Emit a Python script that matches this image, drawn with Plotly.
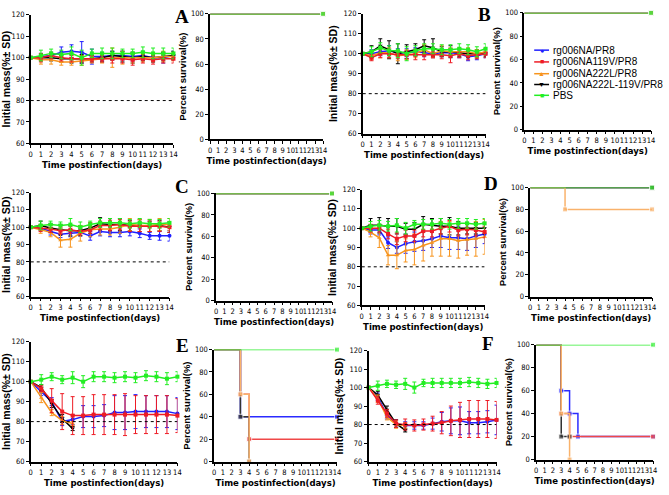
import plotly.graph_objects as go

W, H = 669, 495
days = list(range(15))

series_names = ["rg006NA/PR8", "rg006NA119V/PR8", "rg006NA222L/PR8", "rg006NA222L-119V/PR8", "PBS"]
colors = ["#1f1fff", "#ee1c25", "#f7941d", "#000000", "#22ee22"]
surv_colors = ["#2b2bff", "#f04848", "#f9b26b", "#333333", "#33ee33"]
symbols = ["circle", "square", "triangle-up", "triangle-down", "square"]

# ---- body mass (%), order: blue, red, orange, black, green ----
A_blue = [100, 100.5, 101, 102.5, 103, 102.5, 100.5, 100.5, 101, 101, 100.5, 101, 100, 100, 101]
A_red = [100, 100, 101, 100, 99.5, 99.5, 99.5, 99.5, 99.5, 99.5, 99, 99.5, 99, 99.5, 99.5]
A_orange = [100, 99, 99, 98, 98, 98.5, 99, 99.5, 100, 100, 100, 100, 100, 100.5, 100.5]
A_black = [100, 100, 100, 99.5, 99.5, 99.5, 99.5, 100, 101, 100.5, 100, 100.5, 100, 100.5, 101]
A_green = [100, 101, 102, 101.5, 102, 100, 102, 102, 102, 102, 102, 102.5, 102, 102, 102]
A_blue_sd = [0, 1.5, 1.5, 2.5, 3, 5, 3.5, 2, 2, 2, 2, 2, 2, 2.5, 2]
A_red_sd = [0, 2, 1.5, 1.5, 1.5, 1.5, 1.5, 1.5, 2, 2, 2.5, 2, 2, 2, 2]
A_orange_sd = [0, 2, 2, 1.5, 1.5, 2, 1.5, 2, 4.5, 3, 2.5, 2, 2, 2.5, 2]
A_black_sd = [0, 1.5, 1.5, 1.5, 2, 2, 1.5, 2, 2, 2.5, 2.5, 2, 2, 2, 2]
A_green_sd = [0, 2.5, 2, 2, 3, 3.5, 2, 2.5, 2.5, 2, 2, 2.5, 2.5, 2.5, 2.5]

B_blue = [100, 100, 101, 101.5, 100.5, 100.5, 101, 100.5, 100, 100.5, 100.5, 100, 98.5, 99, 100]
B_red = [100, 98, 100, 100, 99.5, 99.5, 99.5, 99.5, 99.5, 99.5, 99, 100, 99, 99.5, 100]
B_orange = [100, 99, 100.5, 100.5, 99, 99.5, 100, 102, 100, 101.5, 101, 101, 101, 100, 101]
B_black = [100, 101, 104, 102, 100, 101, 102, 104, 103, 101, 101, 100.5, 100, 100, 100.5]
B_green = [100, 101, 103, 101.5, 101.5, 100, 101.5, 102.5, 102.5, 102, 102, 102.5, 102, 101, 102.5]
B_blue_sd = [0, 2, 2, 2.5, 2, 2, 2, 2, 2, 2, 2, 2, 2, 2, 2]
B_red_sd = [0, 1.5, 2, 2, 2, 2, 2.5, 2.5, 1.5, 2, 3.5, 2, 2, 2, 2]
B_orange_sd = [0, 2, 2.5, 2.5, 2.5, 2.5, 2, 2.5, 2, 2.5, 2, 2, 2, 2, 2]
B_black_sd = [0, 3, 3.5, 4.5, 5, 3.5, 3, 3, 4.5, 2.5, 3, 2, 2, 2, 2]
B_green_sd = [0, 2.5, 2.5, 2.5, 3.5, 3.5, 2.5, 2.5, 2.5, 2.5, 2.5, 2.5, 2.5, 2.5, 2.5]

C_blue = [100, 99.5, 97.5, 96, 96.5, 97, 95, 97.5, 97, 97, 97.5, 96.5, 95, 95, 95]
C_red = [100, 99.5, 99, 98, 98.5, 97.5, 98.5, 101, 101, 101.5, 100.5, 100.5, 100.5, 100.5, 100]
C_orange = [100, 98.5, 97, 92.5, 93, 96.5, 98.5, 99, 99, 100, 101.5, 101, 101, 101.5, 101.5]
C_black = [100, 101, 99.5, 98.5, 98, 98, 99.5, 102, 101.5, 101.5, 101, 101, 100.5, 101, 100]
C_green = [100, 101, 101.5, 101, 101.5, 100, 101.5, 102.5, 102.5, 102.5, 102, 102.5, 102, 102, 102.5]
C_blue_sd = [0, 1.5, 2, 2, 2, 2, 2.5, 2.5, 2.5, 2.5, 2.5, 2.5, 2, 2.5, 3]
C_red_sd = [0, 2, 2, 2, 2, 2, 2, 2.5, 3, 3, 3, 3, 3, 3, 3]
C_orange_sd = [0, 2, 2.5, 4, 4.5, 4.5, 4, 3.5, 3.5, 3.5, 3.5, 3.5, 3.5, 3.5, 3.5]
C_black_sd = [0, 2.5, 2.5, 3, 3, 3, 3, 3.5, 3.5, 3.5, 3, 3.5, 3, 3, 3]
C_green_sd = [0, 2.5, 2, 2, 3.5, 3, 2, 2.5, 2.5, 2.5, 2.5, 2.5, 2.5, 2.5, 2.5]

D_blue = [100, 99, 99, 92.5, 90, 92, 93, 93.5, 94.5, 96, 95, 95, 94.5, 96, 97]
D_red = [100, 100, 100, 97, 94.5, 96, 96, 98.5, 98.5, 100, 101, 99, 99.5, 99, 98]
D_orange = [100, 98, 95, 86, 86, 88.5, 89, 91, 92.5, 94.5, 94.5, 93.5, 94, 94.5, 95.5]
D_black = [100, 101.5, 101.5, 101, 101, 99.5, 99.5, 102, 101.5, 101, 101, 100, 100, 100, 100]
D_green = [100, 101, 101.5, 101, 101.5, 100, 102, 102, 102, 102.5, 102, 102.5, 102.5, 102, 102.5]
D_blue_sd = [0, 2, 2.5, 3, 3, 5, 5, 5, 4.5, 6, 6, 6, 6, 6, 5]
D_red_sd = [0, 2, 2, 2.5, 3, 3, 3, 3, 3, 3, 3, 3, 3, 3, 3]
D_orange_sd = [0, 2.5, 5, 5, 7, 6, 8, 8, 7, 9, 9, 9, 8, 9, 9]
D_black_sd = [0, 3.5, 4, 4, 4, 3, 3.5, 4, 3.5, 4, 4.5, 3.5, 3, 3, 3]
D_green_sd = [0, 2.5, 2.5, 2.5, 3.5, 3, 2, 2.5, 2.5, 2.5, 2.5, 2.5, 2.5, 2.5, 2.5]

E_blue = [100, 95, 90, 80, 81, 82.5, 82.5, 83, 84.5, 84.5, 85, 85, 85, 85, 84]
E_red = [100, 96.5, 90.5, 85, 83, 83, 83.5, 83.5, 83.5, 83.5, 83.5, 83.5, 83.5, 83.5, 83]
E_orange = [100, 92, 84.5, 80.5, 79]
E_black = [100, 97, 89, 81.5, 76.5]
E_green = [100, 101, 102.5, 101, 102, 100, 102.5, 102.5, 102, 102.5, 102, 103, 102.5, 101.5, 102.5]
E_blue_sd = [0, 2, 2, 2, 2.5, 5.5, 5.5, 5.5, 8.5, 8.5, 8.5, 8, 8, 8, 8]
E_red_sd = [0, 1.5, 6, 9, 9.5, 9.5, 10, 10, 10, 10.5, 9.5, 9.5, 9.5, 9.5, 8.5]
E_orange_sd = [0, 2.5, 1.5, 2, 1]
E_black_sd = [0, 1.5, 2, 2, 1]
E_green_sd = [0, 2.5, 2, 2, 3, 3, 2.5, 2.5, 2.5, 2.5, 2.5, 2.5, 2.5, 3, 2.5]

F_blue = [100, 95, 85, 80.5, 79.5, 79.5, 79.5, 80.5, 81.5, 82, 82, 81, 81, 81.5, 82.5]
F_red = [100, 93, 86, 80.5, 80, 79.5, 80, 80.5, 81, 82, 82.5, 83, 83, 83, 82.5]
F_orange = [100, 94, 84, 80, 79.5]
F_black = [100, 96, 88, 80.5, 77]
F_green = [100, 101, 102, 101.5, 102, 100, 102.5, 102.5, 102.5, 102.5, 102.5, 103, 102.5, 102, 102.5]
F_blue_sd = [0, 2, 2, 2, 2, 2, 2, 3, 5, 7, 7.5, 6, 6, 6, 8]
F_red_sd = [0, 2, 2, 2, 3, 3, 3, 4, 6, 8, 9.5, 10, 10, 10, 10]
F_orange_sd = [0, 2, 1.5, 2, 1.5]
F_black_sd = [0, 2, 2, 2, 1]
F_green_sd = [0, 2.5, 2, 2, 3, 3, 2, 2.5, 2.5, 2.5, 2.5, 2.5, 2.5, 2.5, 2.5]

# ---- survival (%), event times and values ----
S_all100_t = [0, 14]
S_all100_v = [100, 100]
D_orange_t = [0, 4, 14]
D_orange_v = [100, 80, 80]
E_blue_t = [0, 3, 14]
E_blue_v = [100, 40, 40]
E_red_t = [0, 3, 4, 14]
E_red_v = [100, 60, 20, 20]
E_orange_t = [0, 3, 4]
E_orange_v = [100, 60, 0]
E_black_t = [0, 3, 4]
E_black_v = [100, 40, 0]
F_blue_t = [0, 3, 4, 5, 14]
F_blue_v = [100, 60, 40, 20, 20]
F_red_t = [0, 3, 4, 14]
F_red_v = [100, 40, 20, 20]
F_orange_t = [0, 3, 4]
F_orange_v = [100, 40, 0]
F_black_t = [0, 3, 4]
F_black_v = [100, 20, 20]

mass_panels = {
    "A": [(A_blue, A_blue_sd), (A_red, A_red_sd), (A_orange, A_orange_sd), (A_black, A_black_sd), (A_green, A_green_sd)],
    "B": [(B_blue, B_blue_sd), (B_red, B_red_sd), (B_orange, B_orange_sd), (B_black, B_black_sd), (B_green, B_green_sd)],
    "C": [(C_blue, C_blue_sd), (C_red, C_red_sd), (C_orange, C_orange_sd), (C_black, C_black_sd), (C_green, C_green_sd)],
    "D": [(D_blue, D_blue_sd), (D_red, D_red_sd), (D_orange, D_orange_sd), (D_black, D_black_sd), (D_green, D_green_sd)],
    "E": [(E_blue, E_blue_sd), (E_red, E_red_sd), (E_orange, E_orange_sd), (E_black, E_black_sd), (E_green, E_green_sd)],
    "F": [(F_blue, F_blue_sd), (F_red, F_red_sd), (F_orange, F_orange_sd), (F_black, F_black_sd), (F_green, F_green_sd)],
}
surv_panels = {
    "A": [(S_all100_t, S_all100_v)] * 5,
    "B": [(S_all100_t, S_all100_v)] * 5,
    "C": [(S_all100_t, S_all100_v)] * 5,
    "D": [(S_all100_t, S_all100_v), (S_all100_t, S_all100_v), (D_orange_t, D_orange_v), (S_all100_t, S_all100_v), (S_all100_t, S_all100_v)],
    "E": [(E_blue_t, E_blue_v), (E_red_t, E_red_v), (E_orange_t, E_orange_v), (E_black_t, E_black_v), (S_all100_t, S_all100_v)],
    "F": [(F_blue_t, F_blue_v), (F_red_t, F_red_v), (F_orange_t, F_orange_v), (F_black_t, F_black_v), (S_all100_t, S_all100_v)],
}

# pixel boxes: (x0, x1, ytop, ybottom)
mass_boxes = {"A": (29, 173, 11, 142), "B": (364, 488, 10, 132), "C": (29, 169, 192, 298),
              "D": (363, 487, 189, 307), "E": (29, 177, 344, 466), "F": (370, 499, 353, 466)}
surv_boxes = {"A": (210, 324, 10, 138), "B": (527, 655, 9, 128), "C": (216, 333, 193, 302),
              "D": (533, 656, 187, 298), "E": (214, 338, 352, 466), "F": (539, 657, 347, 464)}
label_pos = {"A": (182, 13), "B": (487, 11), "C": (182, 186), "D": (493, 183), "E": (182, 348), "F": (490, 346)}

mass_order = [0, 3, 2, 1, 4]   # blue, black, orange, red, green
surv_order = [0, 1, 3, 2, 4]   # blue, red, black, orange, green
narrow = "DejaVu Sans Condensed, Liberation Sans Narrow, Arial Narrow, sans-serif"
bold_sans = "Liberation Sans, Arial"

fig = go.Figure()
layout = {}
shapes = []
annotations = []

def dom(box):
    x0, x1, yt, yb = box
    return [x0 / W, x1 / W], [1 - yb / H, 1 - yt / H]

axis_style = dict(showline=True, linecolor="black", linewidth=1.5, ticks="outside",
                  ticklen=3, tickwidth=1, tickcolor="black", showgrid=False, zeroline=False,
                  tickangle=0, tickfont=dict(family=narrow, size=7.5, color="black"))
xtitle = dict(text="<b>Time postinfection(days)</b>", font=dict(family=narrow, size=9.5, color="black"), standoff=3)

idx = 1
for key in "ABCDEF":
    # mass panel
    xd, yd = dom(mass_boxes[key])
    xa, ya = f"x{idx}", f"y{idx}"
    xn = "xaxis" if idx == 1 else f"xaxis{idx}"
    yn = "yaxis" if idx == 1 else f"yaxis{idx}"
    layout[xn] = dict(domain=xd, anchor=ya, range=[0, 14], tickmode="linear", tick0=0, dtick=1,
                      title=xtitle, **axis_style)
    layout[yn] = dict(domain=yd, anchor=xa, range=[60, 120], tickmode="linear", tick0=60, dtick=10,
                      title=dict(text="<b>Initial mass(%± SD)</b>", font=dict(family=bold_sans, size=10.5, color="black"), standoff=4),
                      **axis_style)
    for i in mass_order:
        vals, sd = mass_panels[key][i]
        fig.add_trace(go.Scatter(x=days[:len(vals)], y=vals, mode="lines+markers", xaxis=xa, yaxis=ya,
                                 line=dict(color=colors[i], width=1.5),
                                 marker=dict(color=colors[i], symbol=symbols[i], size=4),
                                 error_y=dict(type="data", array=sd, color=colors[i], thickness=1, width=2),
                                 cliponaxis=False, showlegend=False))
    shapes.append(dict(type="line", xref=xa, yref=ya, x0=0, x1=14, y0=80, y1=80,
                       line=dict(color="black", width=1, dash="dot")))
    lx, ly = label_pos[key]
    annotations.append(dict(text=f"<b>{key}</b>", x=lx / W, y=1 - ly / H, xref="paper", yref="paper",
                            xanchor="center", yanchor="middle", showarrow=False,
                            font=dict(family="Liberation Serif, Times New Roman, serif", size=19, color="black")))
    idx += 1

    # survival panel
    xd, yd = dom(surv_boxes[key])
    xa, ya = f"x{idx}", f"y{idx}"
    xn, yn = f"xaxis{idx}", f"yaxis{idx}"
    layout[xn] = dict(domain=xd, anchor=ya, range=[0, 14], tickmode="linear", tick0=0, dtick=1,
                      title=xtitle, **axis_style)
    layout[yn] = dict(domain=yd, anchor=xa, range=[0, 100], tickmode="linear", tick0=0, dtick=20,
                      title=dict(text="<b>Percent survival(%)</b>", font=dict(family=bold_sans, size=9.5, color="black"), standoff=3),
                      **axis_style)
    for i in surv_order:
        t, v = surv_panels[key][i]
        sizes = [0] + [5] * (len(t) - 1)
        fig.add_trace(go.Scatter(x=t, y=v, mode="lines+markers", xaxis=xa, yaxis=ya, line_shape="hv",
                                 line=dict(color=surv_colors[i], width=1.5),
                                 marker=dict(color=surv_colors[i], symbol="square", size=sizes),
                                 cliponaxis=False, showlegend=False))
    idx += 1

# legend (manual, compact like the original)
leg_y = [47, 59, 71, 82, 93]
glyph = {"circle": "●", "square": "■", "triangle-up": "▲", "triangle-down": "▼"}
for i in range(5):
    yy = 1 - leg_y[i] / H
    shapes.append(dict(type="line", xref="paper", yref="paper", x0=537 / W, x1=552 / W, y0=yy, y1=yy,
                       line=dict(color=colors[i], width=1.5)))
    annotations.append(dict(text=glyph[symbols[i]], x=544.5 / W, y=yy, xref="paper", yref="paper", showarrow=False,
                            font=dict(size=7, color=colors[i]), xanchor="center", yanchor="middle", borderpad=0))
    annotations.append(dict(text=series_names[i], x=555 / W, y=yy, xref="paper", yref="paper", showarrow=False,
                            xanchor="left", yanchor="middle", borderpad=0,
                            font=dict(family="Liberation Sans, Arial", size=10, color="black")))

fig.update_layout(width=W, height=H, margin=dict(l=0, r=0, t=0, b=0), paper_bgcolor="white",
                  plot_bgcolor="white", showlegend=False, shapes=shapes, annotations=annotations, **layout)
fig.write_html("out.html", config={"displayModeBar": False},
               post_script="document.body.style.margin='0';document.body.style.padding='0';")
